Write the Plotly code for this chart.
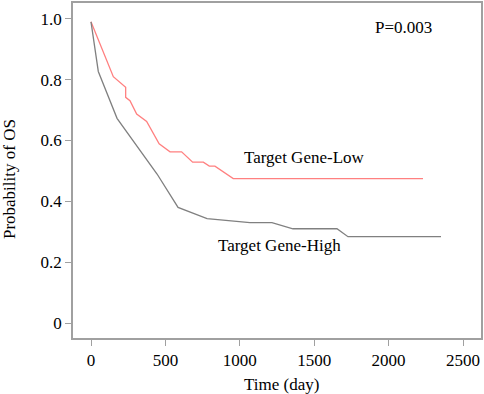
import plotly.graph_objects as go

# Target Gene-Low (red)
low_days = [0, 150, 233, 233, 262, 307, 374, 458, 531, 609, 683, 755, 795, 833, 956, 2231]
low_prob = [0.99, 0.81, 0.775, 0.742, 0.731, 0.687, 0.663, 0.589, 0.563, 0.563, 0.529, 0.529, 0.516, 0.516, 0.475, 0.475]

# Target Gene-High (gray)
high_days = [0, 49, 175, 444, 585, 780, 1068, 1216, 1357, 1653, 1727, 2352]
high_prob = [0.99, 0.827, 0.673, 0.49, 0.38, 0.343, 0.33, 0.33, 0.31, 0.31, 0.284, 0.284]

x_ticks = [0, 500, 1000, 1500, 2000, 2500]
y_ticks = [0, 0.2, 0.4, 0.6, 0.8, 1.0]
y_labels = ["0", "0.2", "0.4", "0.6", "0.8", "1.0"]

FONT = "Liberation Serif, Times New Roman, serif"
AXC = "#a0a0a0"

fig = go.Figure()
fig.add_trace(go.Scatter(x=low_days, y=low_prob, mode="lines",
                         line=dict(color="#ff8080", width=1.3), showlegend=False))
fig.add_trace(go.Scatter(x=high_days, y=high_prob, mode="lines",
                         line=dict(color="#808080", width=1.3), showlegend=False))

fig.update_layout(
    width=484, height=394,
    margin=dict(l=73, r=3, t=1, b=56),
    paper_bgcolor="white", plot_bgcolor="white",
    font=dict(family=FONT, size=17, color="black"),
    xaxis=dict(range=[-121, 2621], tickvals=x_ticks, ticks="outside", ticklen=6,
               tickcolor=AXC, showline=True, linecolor=AXC, linewidth=1.5, mirror=True,
               showgrid=False, zeroline=False,
               tickfont=dict(family=FONT, size=17, color="black")),
    yaxis=dict(range=[-0.049, 1.052], tickvals=y_ticks, ticktext=y_labels, ticks="outside",
               ticklen=6, tickcolor=AXC, showline=True, linecolor=AXC, linewidth=1.5,
               mirror=True, showgrid=False, zeroline=False,
               tickfont=dict(family=FONT, size=17, color="black")),
    annotations=[
        dict(text="Time (day)", xref="paper", yref="paper", x=0.512, y=-0.139,
             xanchor="center", yanchor="middle", showarrow=False,
             font=dict(family=FONT, size=17)),
        dict(text="Probability of OS", xref="paper", yref="paper", x=-0.154, y=0.475,
             xanchor="center", yanchor="middle", textangle=-90, showarrow=False,
             font=dict(family=FONT, size=17)),
        dict(text="P=0.003", x=2103, y=0.972, xref="x", yref="y", showarrow=False,
             xanchor="center", yanchor="middle", font=dict(family=FONT, size=17)),
        dict(text="Target Gene-Low", x=1438, y=0.545, xref="x", yref="y", showarrow=False,
             xanchor="center", yanchor="middle", font=dict(family=FONT, size=17)),
        dict(text="Target Gene-High", x=1270, y=0.256, xref="x", yref="y", showarrow=False,
             xanchor="center", yanchor="middle", font=dict(family=FONT, size=17)),
    ],
)

fig.write_html("out.html", config={"displayModeBar": False},
               post_script="document.body.style.margin='0';document.body.style.padding='0';")
